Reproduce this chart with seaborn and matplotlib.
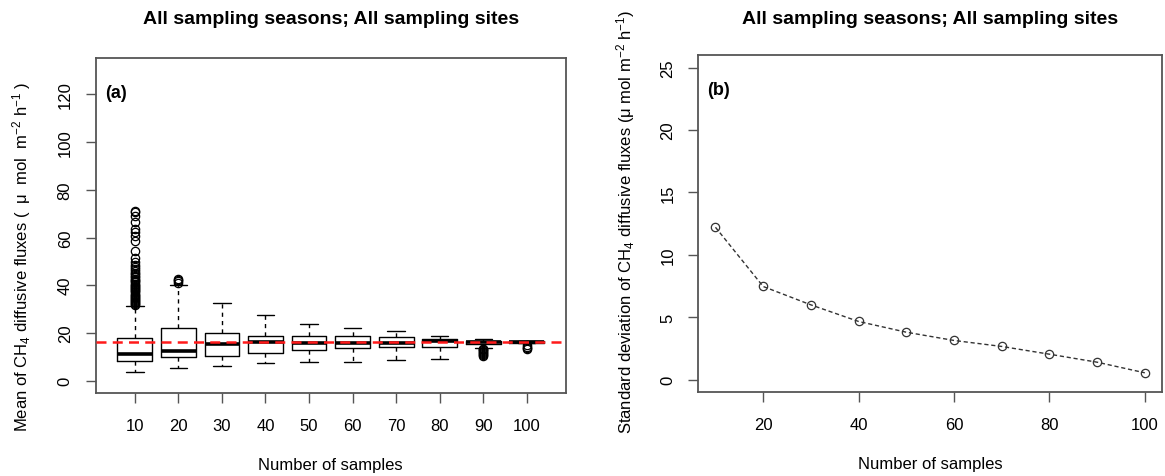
import numpy as np
import pandas as pd
import matplotlib
matplotlib.use("Agg")
import matplotlib.pyplot as plt
import seaborn as sns

# --- data -----------------------------------------------------------------
n_samples = [10, 20, 30, 40, 50, 60, 70, 80, 90, 100]

# panel (a): boxplot statistics of the resampled means
box_whislo = [3.8, 5.2, 6.3, 7.4, 7.7, 8.0, 8.7, 9.1, 13.7, 15.6]
box_q1 = [8.4, 9.8, 10.5, 11.5, 13.0, 13.7, 14.0, 14.0, 15.4, 15.8]
box_med = [11.2, 12.6, 15.4, 16.1, 15.8, 15.7, 15.7, 16.8, 16.1, 16.1]
box_q3 = [17.8, 22.0, 19.9, 18.6, 18.9, 18.6, 18.2, 17.5, 16.8, 16.5]
box_whishi = [31.2, 40.1, 32.4, 27.4, 23.8, 22.1, 20.6, 18.9, 17.5, 16.7]

fliers_10 = [31.6, 32.0, 32.4, 32.9, 33.3, 33.8, 34.2, 34.7, 35.1, 35.6, 36.0,
             36.5, 37.0, 37.4, 37.9, 38.3, 38.8, 39.3, 39.8, 40.2, 40.7, 41.2,
             41.7, 42.2, 42.8, 43.4, 44.0, 44.6, 45.3, 46.0, 46.8, 47.7, 48.6,
             49.8, 51.5, 54.3, 58.5, 60.8, 62.2, 63.6, 66.4, 69.2, 70.6, 71.3]
fliers_20 = [41.0, 41.6, 42.1, 42.6]
fliers_90 = [10.4, 10.8, 11.2, 11.6, 12.0, 12.4, 12.8, 13.1, 13.4]
fliers_100 = [13.1, 13.6, 14.2, 14.8]
box_fliers = [fliers_10, fliers_20, [], [], [], [], [], [], fliers_90, fliers_100]

overall_mean = 16.0

# panel (b): standard deviation of the means
sd_values = [12.21, 7.47, 6.0, 4.67, 3.81, 3.15, 2.67, 2.05, 1.41, 0.56]

TITLE = "All sampling seasons; All sampling sites"

# --- style ----------------------------------------------------------------
sns.set_style("ticks")
plt.rcParams["font.family"] = ["Liberation Sans", "DejaVu Sans"]
plt.rcParams["mathtext.fontset"] = "custom"
plt.rcParams["mathtext.rm"] = "Liberation Sans"
plt.rcParams["mathtext.it"] = "Liberation Sans:italic"
plt.rcParams["mathtext.bf"] = "Liberation Sans:bold"
plt.rcParams["text.color"] = "black"
plt.rcParams["axes.labelcolor"] = "black"

SPINE = "#555555"
FS = 12

fig = plt.figure(figsize=(11.65, 4.77), dpi=100)
ax_a = fig.add_axes([0.0821, 0.174, 0.4037, 0.702])
ax_b = fig.add_axes([0.5994, 0.1755, 0.398, 0.707])

# --- panel (a) ------------------------------------------------------------
stats = []
for i, n in enumerate(n_samples):
    stats.append(dict(label=str(n), whislo=box_whislo[i], q1=box_q1[i],
                      med=box_med[i], q3=box_q3[i], whishi=box_whishi[i],
                      fliers=box_fliers[i]))
positions = np.arange(1, len(n_samples) + 1)
ax_a.bxp(stats, positions=positions, widths=0.8, patch_artist=False,
         boxprops=dict(color="black", linewidth=1.0),
         medianprops=dict(color="black", linewidth=2.6),
         whiskerprops=dict(color="black", linewidth=1.0, linestyle=(0, (3, 3))),
         capprops=dict(color="black", linewidth=1.0),
         capwidths=0.4,
         flierprops=dict(marker="o", markerfacecolor="none",
                         markeredgecolor="black", markersize=6,
                         markeredgewidth=0.9))
ax_a.axhline(overall_mean, color="#ff1a1a", linestyle=(0, (4, 2.5)),
             linewidth=1.8, zorder=5)
ax_a.set_xlim(0.1, 10.9)
ax_a.set_ylim(-5.2, 135.2)
ax_a.set_yticks([0, 20, 40, 60, 80, 100, 120])
ax_a.set_xticks(positions)
ax_a.set_xticklabels([str(n) for n in n_samples])
ax_a.set_xlabel("Number of samples", fontsize=FS)
ax_a.set_ylabel(r"Mean of CH$_4$ diffusive fluxes (  μ  mol  m$^{-2}$ h$^{-1}$ )",
                fontsize=FS)
ax_a.yaxis.set_label_coords(-0.133, 0.41)
ax_a.xaxis.set_label_coords(0.5, -0.19)
ax_a.text(0.02, 0.885, "(a)", transform=ax_a.transAxes, fontsize=13,
          fontweight="bold")

# --- panel (b) ------------------------------------------------------------
df_b = pd.DataFrame({"n": n_samples, "sd": sd_values})
sns.lineplot(data=df_b, x="n", y="sd", ax=ax_b, color="#333333",
             linestyle=(0, (3, 2)), linewidth=1.0, marker="o",
             markersize=6, markerfacecolor="none", markeredgecolor="#333333",
             markeredgewidth=0.9)
ax_b.set_xlim(6.4, 103.6)
ax_b.set_ylim(-1, 26)
ax_b.set_yticks([0, 5, 10, 15, 20, 25])
ax_b.set_xticks([20, 40, 60, 80, 100])
ax_b.set_xlabel("Number of samples", fontsize=FS)
ax_b.set_ylabel(r"Standard deviation of CH$_4$ diffusive fluxes "
                r"(μ mol m$^{-2}$ h$^{-1}$)", fontsize=FS)
ax_b.yaxis.set_label_coords(-0.132, 0.508)
ax_b.xaxis.set_label_coords(0.5, -0.19)
ax_b.text(0.02, 0.885, "(b)", transform=ax_b.transAxes, fontsize=13,
          fontweight="bold")

# titles, centred over each panel
for ax in (ax_a, ax_b):
    bb = ax.get_position()
    fig.text((bb.x0 + bb.x1) / 2, 1 - 20 / 477, TITLE, fontsize=14,
             fontweight="bold", ha="center", va="center")

for ax in (ax_a, ax_b):
    for s in ax.spines.values():
        s.set_visible(True)
        s.set_color(SPINE)
        s.set_linewidth(1.3)
    ax.tick_params(axis="both", direction="out", length=7, width=1.0,
                   color=SPINE, labelcolor="black", labelsize=FS)
    ax.tick_params(axis="x", pad=11)
    ax.tick_params(axis="y", labelrotation=90, pad=9.5)
    for lab in ax.get_yticklabels():
        lab.set_va("center")
    ax.grid(False)

fig.savefig("out.png", dpi=100)
